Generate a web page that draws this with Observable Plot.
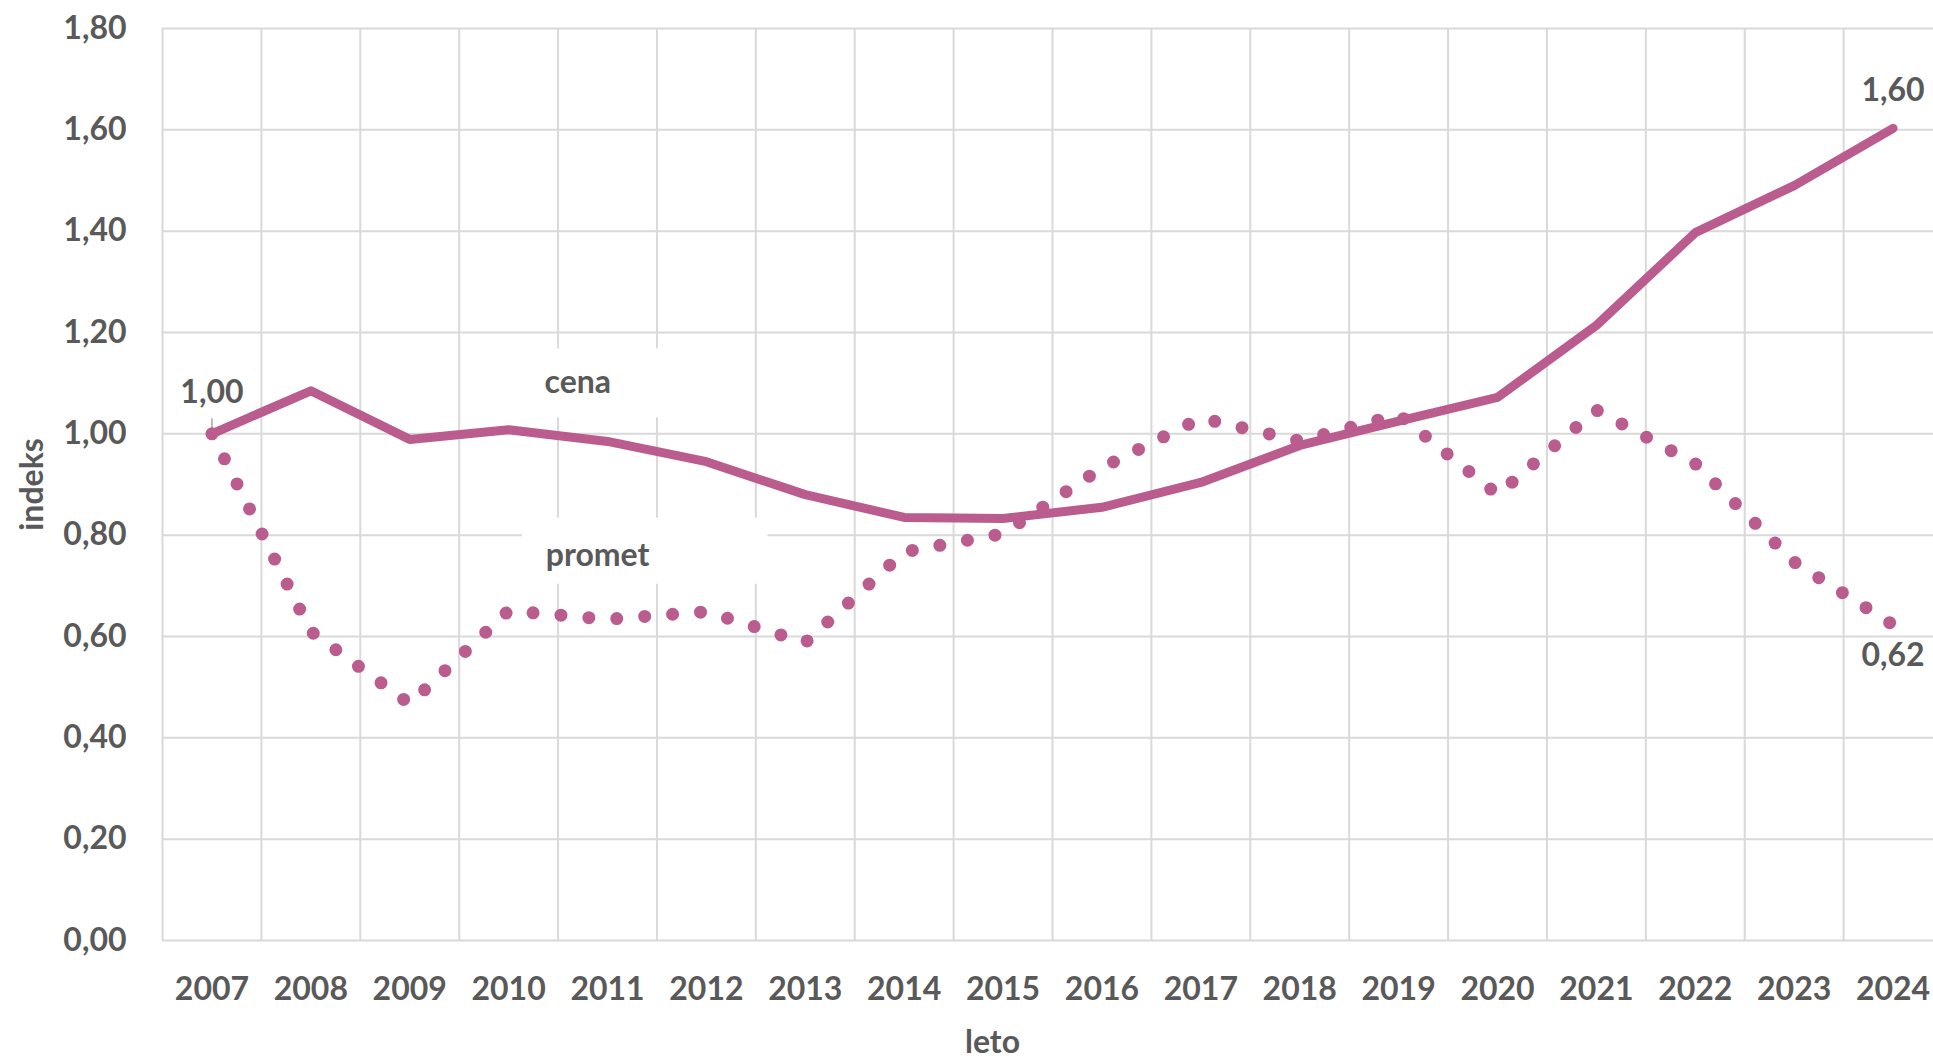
<!DOCTYPE html>
<html>
<head>
<meta charset="utf-8">
<script src="https://cdn.jsdelivr.net/npm/d3@7"></script>
<script src="https://cdn.jsdelivr.net/npm/@observablehq/plot@0.6"></script>
<style>
html, body { margin: 0; padding: 0; background: #fff; overflow: hidden; }
svg { display: block; max-width: none !important; }
</style>
</head>
<body>
<div id="chart"></div>
<script>
// ---- data ----
const years  = [2007, 2008, 2009, 2010, 2011, 2012, 2013, 2014, 2015, 2016, 2017, 2018, 2019, 2020, 2021, 2022, 2023, 2024];
const cena   = [1.000, 1.085, 0.989, 1.008, 0.985, 0.945, 0.880, 0.835, 0.833, 0.855, 0.904, 0.977, 1.025, 1.072, 1.214, 1.397, 1.490, 1.603];
const promet = [1.000, 0.610, 0.467, 0.651, 0.634, 0.649, 0.588, 0.767, 0.803, 0.933, 1.031, 0.986, 1.038, 0.880, 1.047, 0.941, 0.747, 0.623];
const yTicks = [0, 0.2, 0.4, 0.6, 0.8, 1.0, 1.2, 1.4, 1.6, 1.8];
const seriesNames = ["cena", "promet"];
const xTitle = "leto";
const yTitle = "indeks";

// ---- derived ----
const color = "#BA5D8E";
const fmt = v => v.toFixed(2).replace(".", ",");
const cenaData = years.map((x, i) => ({x, y: cena[i]}));
const prometData = years.map((x, i) => ({x, y: promet[i]}));
const bounds = years.map(y => y - 0.5).concat([years[years.length - 1] + 0.5]);
const last = years.length - 1;

const nameLabels = [
  {name: seriesNames[0], x: 2010.7, y: 1.10},
  {name: seriesNames[1], x: 2010.9, y: 0.76}
];

const chart = Plot.plot({
  width: 1942,
  height: 1056,
  marginLeft: 162,
  marginRight: 0,
  marginTop: 28,
  marginBottom: 116,
  style: "font-family: Lato, 'Open Sans', sans-serif; font-size: 32px; font-weight: 700; color: #595959; background: #fff; overflow: visible; max-width: none;",
  x: {domain: [bounds[0], bounds[bounds.length - 1]]},
  y: {domain: [0, 1.8]},
  marks: [
    Plot.gridY(yTicks, {stroke: "#d9d9d9", strokeOpacity: 1, strokeWidth: 2}),
    Plot.gridX(bounds, {stroke: "#d9d9d9", strokeOpacity: 1, strokeWidth: 2}),
    Plot.axisY(yTicks, {tickSize: 0, tickPadding: 36, tickFormat: fmt, label: null}),
    Plot.axisX(years, {tickSize: 0, tickPadding: 37, tickFormat: d => String(d), label: null}),
    Plot.text([yTitle], {frameAnchor: "left", rotate: -90, dx: -130, textAnchor: "middle", lineAnchor: "middle", text: d => d}),
    Plot.text([xTitle], {frameAnchor: "bottom", dy: 102, dx: -60, textAnchor: "middle", lineAnchor: "middle", text: d => d}),
    Plot.ruleX([cenaData[0]], {x: "x", y1: "y", y2: d => d.y + 0.03, stroke: "#a6a6a6", strokeWidth: 1.5}),
    Plot.line(cenaData, {x: "x", y: "y", stroke: color, strokeWidth: 9, strokeLinejoin: "round", strokeLinecap: "round"}),
    Plot.line(prometData, {x: "x", y: "y", stroke: color, strokeWidth: 13, strokeDasharray: "0 28", strokeLinecap: "round"}),
    Plot.text([cenaData[0]], {x: "x", y: "y", text: d => fmt(d.y), dy: -41}),
    Plot.text([cenaData[last]], {x: "x", y: "y", text: d => fmt(d.y), dy: -38}),
    Plot.text([prometData[last]], {x: "x", y: "y", text: d => fmt(d.y), dy: 31}),
    Plot.text(nameLabels, {x: "x", y: "y", text: "name"})
  ]
});

document.getElementById("chart").append(chart);

// white boxes behind the series name labels (Excel-style label background)
const pads = {cena: [27, 48, 13, 17], promet: [24, 118, 16, 11]}; // left, right, top, bottom
Array.from(chart.querySelectorAll("text"))
  .filter(t => seriesNames.includes(t.textContent.trim()))
  .forEach(t => {
    const bb = t.getBBox();
    const p = pads[t.textContent.trim()];
    const r = document.createElementNS("http://www.w3.org/2000/svg", "rect");
    r.setAttribute("x", bb.x - p[0]);
    r.setAttribute("y", bb.y - p[2]);
    r.setAttribute("width", bb.width + p[0] + p[1]);
    r.setAttribute("height", bb.height + p[2] + p[3]);
    r.setAttribute("fill", "#ffffff");
    r.setAttribute("stroke", "none");
    const tr = t.getAttribute("transform");
    if (tr) r.setAttribute("transform", tr);
    t.parentNode.insertBefore(r, t);
  });
</script>
</body>
</html>
